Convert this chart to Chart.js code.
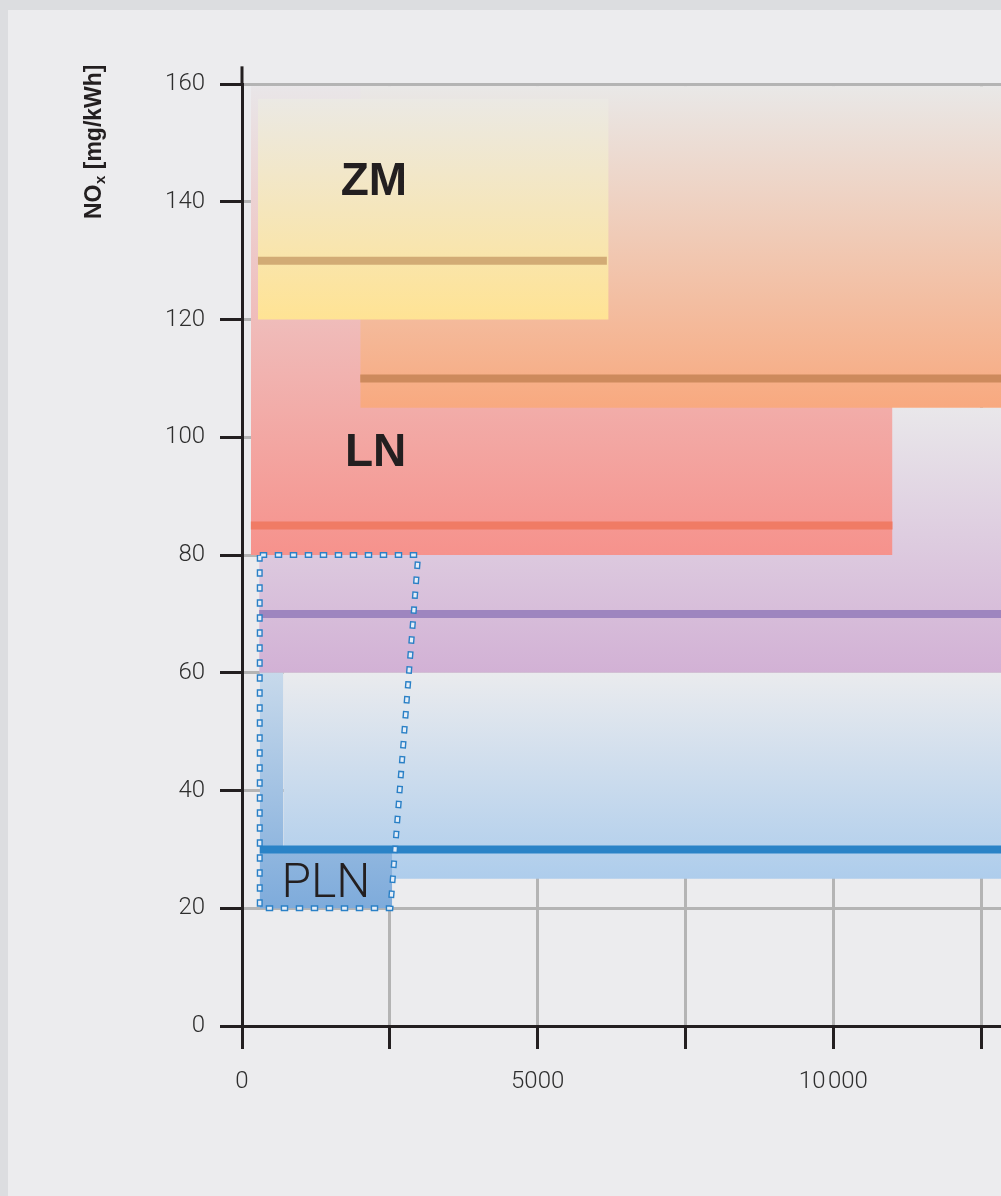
<!DOCTYPE html>
<html>
<head>
<meta charset="utf-8">
<script src="https://cdn.jsdelivr.net/npm/chart.js@4.4.1/dist/chart.umd.min.js"></script>
<style>
html, body { margin: 0; padding: 0; width: 1001px; height: 1196px; overflow: hidden; background: #dcdde0; }
#panel { position: absolute; left: 8px; top: 10px; width: 1140px; bottom: 0; background: #ececee; }
#chart { position: absolute; left: 0; top: 0; }
</style>
</head>
<body>
<div id="panel"></div>
<canvas id="chart" width="1148" height="1196"></canvas>
<script>
// zone bands: x range, NOx range (mg/kWh), and the limit line inside each
var bandNames  = ['violet', 'LN', 'orange', 'ZM', 'blue'];
var bandFrom   = [290, 150, 2000, 270, 700];
var bandTo     = [15000, 11000, 15000, 6200, 15000];
var bandLow    = [60, 80, 105, 120, 25];
var bandHigh   = [105, 159.6, 159.6, 157.5, 60];
var limitValue = [70, 85, 110, 130, 30];
var limitFrom  = [290, 150, 2000, 270, 300];
var limitTo    = [15000, 11000, 15000, 6170, 15000];

// PLN block (strip + foot) and its dotted outline
var plnFrom = [300, 300];
var plnTo   = [700, 2540];
var plnLow  = [20, 20];
var plnHigh = [60, 30];
var outlineX = [300, 2980, 2510, 300, 300];
var outlineY = [80, 80, 20, 20, 80];

// zone names written inside the chart
var zoneLabels = ['ZM', 'LN', 'PLN'];
var zoneLabelX = [2230, 2260, 1420];
var zoneLabelY = [144, 98, 24.8];

// axes
var xMax = 15000, xStep = 2500, xLabelled = [0, 5000, 10000];
var yMax = 160, yStep = 20, yAxisTop = 163;

// styles
var bandTop    = ['#e9e7ea', '#e9e6e8', '#e9e8e7', '#ebe9e4', '#eaebee'];
var bandBottom = ['#d2b1d5', '#f6928c', '#f8a97f', '#ffe394', '#aecdec'];
var limitColor = ['#9e86bf', '#f07b65', '#cd8a5d', '#d2ab75', '#2a83c7'];
var plnTop = '#c7d9eb', plnBottom = '#7eabdb';
var labelFont = ['bold 46px "Liberation Sans", Arial, sans-serif',
                 'bold 46px "Liberation Sans", Arial, sans-serif',
                 '300 48px Roboto, "Liberation Sans", sans-serif'];
var axisBlack = '#231f20', gridGray = '#b4b4b4', tickFont = { family: 'Roboto', size: 24, weight: 300 };

function vGradient(high, low, top, bottom) {
  return function (context) {
    var chart = context.chart;
    if (!chart.chartArea) return bottom;
    var y = chart.scales.y;
    var g = chart.ctx.createLinearGradient(0, y.getPixelForValue(high), 0, y.getPixelForValue(low));
    g.addColorStop(0, top);
    g.addColorStop(1, bottom);
    return g;
  };
}

function rect(x0, x1, low, high, fillStyle) {
  return {
    data: [{ x: x0, y: high }, { x: x1, y: high }],
    fill: { value: low },
    backgroundColor: fillStyle,
    borderColor: 'rgba(0,0,0,0)',
    borderWidth: 0,
    pointRadius: 0
  };
}

function hline(x0, x1, v, color) {
  return {
    data: [{ x: x0, y: v }, { x: x1, y: v }],
    fill: false,
    borderColor: color,
    borderWidth: 8,
    borderCapStyle: 'butt',
    pointRadius: 0
  };
}

// back to front
var datasets = [];
for (var i = 0; i < bandNames.length - 1; i++) {
  datasets.push(rect(bandFrom[i], bandTo[i], bandLow[i], bandHigh[i], vGradient(bandHigh[i], bandLow[i], bandTop[i], bandBottom[i])));
  datasets.push(hline(limitFrom[i], limitTo[i], limitValue[i], limitColor[i]));
}
var b = bandNames.length - 1;
datasets.push(rect(bandFrom[b], bandTo[b], bandLow[b], bandHigh[b], vGradient(bandHigh[b], bandLow[b], bandTop[b], bandBottom[b])));
for (var k = 0; k < plnFrom.length; k++) {
  datasets.push(rect(plnFrom[k], plnTo[k], plnLow[k], plnHigh[k], vGradient(60, 20, plnTop, plnBottom)));
}
datasets.push(hline(limitFrom[b], limitTo[b], limitValue[b], limitColor[b]));

// dotted outline: blue dashes with a pale core, so each dot reads as a small hollow box
var outline = outlineX.map(function (x, j) { return { x: x, y: outlineY[j] }; });
datasets.push({
  data: outline, fill: false, borderColor: '#2a80c6', borderWidth: 6,
  borderDash: [7.5, 7.5], borderCapStyle: 'butt', borderJoinStyle: 'miter', pointRadius: 0
});
datasets.push({
  data: outline, fill: false, borderColor: '#e6eef8', borderWidth: 3.2,
  borderDash: [4.7, 10.3], borderDashOffset: -1.4, borderCapStyle: 'butt', borderJoinStyle: 'miter', pointRadius: 0
});
datasets.forEach(function (d, j) { d.order = datasets.length - j; });

var zoneText = {
  id: 'zoneText',
  afterDatasetsDraw: function (chart) {
    var c = chart.ctx, xs = chart.scales.x, ys = chart.scales.y;
    c.save();
    c.fillStyle = '#231f20';
    c.textAlign = 'center';
    c.textBaseline = 'alphabetic';
    zoneLabels.forEach(function (t, j) {
      c.font = labelFont[j];
      c.fillText(t, xs.getPixelForValue(zoneLabelX[j]), ys.getPixelForValue(zoneLabelY[j]) + 17);
    });
    c.restore();
  }
};

// y axis line runs a little past the 160 tick; NOx title with subscript x
var axisExtras = {
  id: 'axisExtras',
  afterDraw: function (chart) {
    var c = chart.ctx, xs = chart.scales.x, ys = chart.scales.y;
    var x0 = xs.getPixelForValue(0);
    c.save();
    c.strokeStyle = axisBlack;
    c.lineWidth = 3;
    c.beginPath();
    c.moveTo(x0, ys.top + 1);
    c.lineTo(x0, ys.getPixelForValue(yAxisTop));
    c.stroke();

    var big = 'bold 23px "Liberation Sans", Arial, sans-serif';
    var small = 'bold 15px "Liberation Sans", Arial, sans-serif';
    c.translate(101, 219);
    c.rotate(-Math.PI / 2);
    c.fillStyle = '#231f20';
    c.textBaseline = 'alphabetic';
    c.textAlign = 'left';
    c.font = big;
    c.fillText('NO', 0, 0);
    var x = c.measureText('NO').width;
    c.font = small;
    c.fillText('x', x + 0.5, 4);
    x += c.measureText('x').width + 0.5;
    c.font = big;
    c.fillText(' [mg/kWh]', x, 0);
    c.restore();
  }
};

new Chart(document.getElementById('chart'), {
  type: 'line',
  data: { datasets: datasets },
  plugins: [zoneText, axisExtras],
  options: {
    responsive: false,
    animation: false,
    layout: { padding: { top: 84, left: 0, right: 0, bottom: 0 } },
    plugins: { legend: { display: false }, tooltip: { enabled: false } },
    scales: {
      x: {
        type: 'linear', min: 0, max: xMax,
        border: { color: axisBlack, width: 3 },
        grid: { color: gridGray, lineWidth: 3, tickColor: axisBlack, tickWidth: 3, tickLength: 23 },
        ticks: {
          stepSize: xStep, autoSkip: false, maxRotation: 0, padding: 19,
          color: '#2e2e2e', font: tickFont,
          callback: function (v) {
            var r = Math.round(v);
            if (xLabelled.indexOf(r) < 0) return '';
            return r >= 10000 ? String(r).replace(/(\d{3})$/, '\u200A$1') : String(r);
          }
        },
        afterFit: function (s) { s.height = 170; }
      },
      y: {
        type: 'linear', min: 0, max: yMax,
        border: { color: axisBlack, width: 3 },
        grid: { color: gridGray, lineWidth: 3, tickColor: axisBlack, tickWidth: 3, tickLength: 22 },
        ticks: { stepSize: yStep, padding: 15, color: '#2e2e2e', font: tickFont },
        afterFit: function (s) { s.width = 242; }
      }
    }
  }
});
</script>
</body>
</html>
